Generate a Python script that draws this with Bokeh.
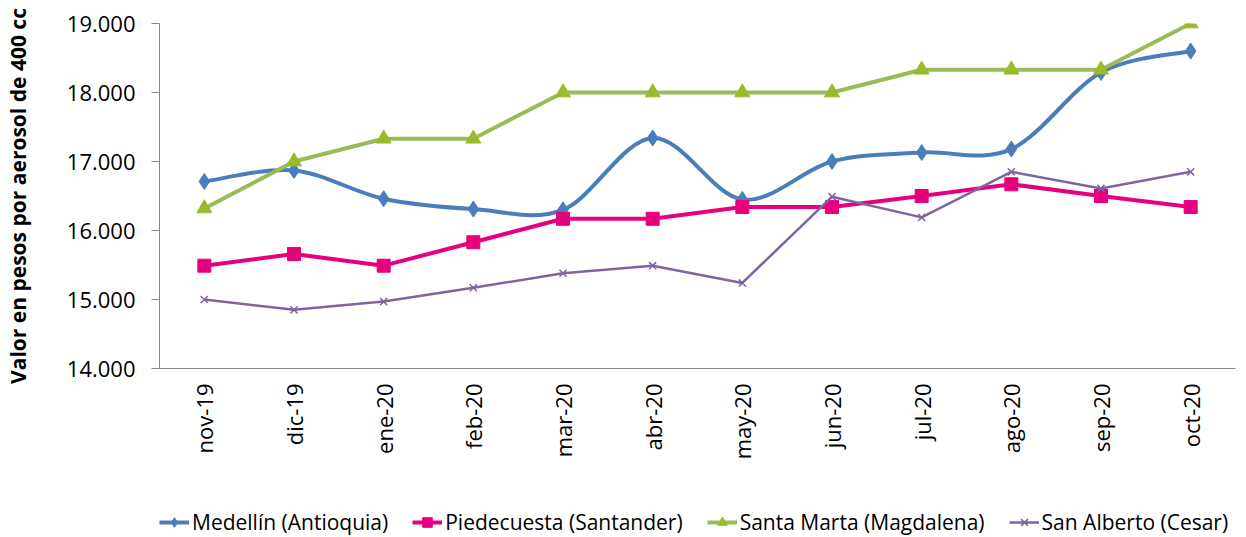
from bokeh.plotting import figure
from bokeh.models import Range1d, FixedTicker, Legend, LegendItem
from bokeh.layouts import column
from bokeh.embed import file_html
from bokeh.resources import INLINE
from math import pi

months = ["nov-19", "dic-19", "ene-20", "feb-20", "mar-20", "abr-20",
          "may-20", "jun-20", "jul-20", "ago-20", "sep-20", "oct-20"]
medellin = [16710, 16870, 16460, 16310, 16300, 17340, 16450, 17000, 17130, 17180, 18290, 18600]
piedecuesta = [15490, 15660, 15490, 15830, 16170, 16170, 16340, 16340, 16500, 16670, 16500, 16340]
santa_marta = [16320, 17000, 17330, 17330, 18000, 18000, 18000, 18000, 18330, 18330, 18330, 19000]
san_alberto = [15000, 14850, 14970, 15170, 15380, 15490, 15240, 16490, 16190, 16850, 16610, 16850]
y_ticks = [14000, 15000, 16000, 17000, 18000, 19000]
y_tick_labels = ["14.000", "15.000", "16.000", "17.000", "18.000", "19.000"]
series_names = ["Medellín (Antioquia)", "Piedecuesta (Santander)",
                "Santa Marta (Magdalena)", "San Alberto (Cesar)"]

FONT = "Open Sans"
BLUE = "#4A7EBB"
MAGENTA = "#E6007E"
GREEN = "#9BBB59"
GREEN_MK = "#99BB2A"
PURPLE = "#8064A2"
AXIS = "#868686"

x = [i + 0.5 for i in range(len(months))]

p = figure(width=1246, height=500, output_backend="svg", toolbar_location=None,
           x_range=Range1d(0, len(months)), y_range=Range1d(14000, 19000),
           min_border_left=156, min_border_right=11, min_border_top=23,
           min_border_bottom=132)
p.outline_line_color = None
p.grid.visible = False
p.background_fill_color = "white"
p.border_fill_color = "white"

# y axis
p.yaxis.ticker = FixedTicker(ticks=y_ticks)
p.yaxis.major_label_overrides = {t: l for t, l in zip(y_ticks, y_tick_labels)}
p.yaxis.minor_tick_line_color = None
p.yaxis.major_tick_in = 0
p.yaxis.major_tick_out = 8
p.yaxis.major_tick_line_color = AXIS
p.yaxis.axis_line_color = AXIS
p.yaxis.major_label_text_font = FONT
p.yaxis.major_label_text_font_size = "22px"
p.yaxis.major_label_text_color = "#000000"
p.yaxis.major_label_standoff = 16
p.yaxis.axis_label = "Valor en pesos por aerosol de 400 cc"
p.yaxis.axis_label_text_font = FONT
p.yaxis.axis_label_text_font_style = "bold"
p.yaxis.axis_label_text_font_size = "21px"
p.yaxis.axis_label_text_color = "#000000"
p.yaxis.axis_label_standoff = 32

# x axis
p.xaxis.ticker = FixedTicker(ticks=x)
p.xaxis.major_label_overrides = {xi: m for xi, m in zip(x, months)}
p.xaxis.minor_tick_line_color = None
p.xaxis.major_tick_line_color = None
p.xaxis.major_tick_in = 0
p.xaxis.major_tick_out = 0
p.xaxis.axis_line_color = AXIS
p.xaxis.major_label_orientation = pi / 2
p.xaxis.major_label_text_font = FONT
p.xaxis.major_label_text_font_size = "22px"
p.xaxis.major_label_text_color = "#000000"
p.xaxis.major_label_standoff = 15

# Medellín: smoothed curve (Bezier segments built from the data points)
n = len(medellin)
bx0, by0, bx1, by1, cx0, cy0, cx1, cy1 = [], [], [], [], [], [], [], []
for i in range(n - 1):
    xa, ya = (x[i - 1], medellin[i - 1]) if i > 0 else (x[i], medellin[i])
    xd, yd = (x[i + 2], medellin[i + 2]) if i + 2 < n else (x[i + 1], medellin[i + 1])
    bx0.append(x[i]); by0.append(medellin[i])
    bx1.append(x[i + 1]); by1.append(medellin[i + 1])
    cx0.append(x[i] + (x[i + 1] - xa) / 6.0)
    cy0.append(medellin[i] + (medellin[i + 1] - ya) / 6.0)
    cx1.append(x[i + 1] - (xd - x[i]) / 6.0)
    cy1.append(medellin[i + 1] - (yd - medellin[i]) / 6.0)
p.bezier(x0=bx0, y0=by0, x1=bx1, y1=by1, cx0=cx0, cy0=cy0, cx1=cx1, cy1=cy1,
         line_color=BLUE, line_width=4)
p.scatter(x, medellin, marker="diamond", size=16, fill_color=BLUE, line_color=BLUE)
p.line(x, piedecuesta, line_color=MAGENTA, line_width=4)
p.scatter(x, piedecuesta, marker="square", size=13, fill_color=MAGENTA, line_color=MAGENTA)
p.line(x, santa_marta, line_color=GREEN, line_width=4)
p.scatter(x, santa_marta, marker="triangle", size=15, fill_color=GREEN_MK, line_color=GREEN_MK)
p.line(x, san_alberto, line_color=PURPLE, line_width=2.5)
p.scatter(x, san_alberto, marker="x", size=10, line_color=PURPLE, line_width=1.5)

# Legend strip (separate figure below the chart, same styles as the series)
lg = figure(width=1246, height=37, output_backend="svg", toolbar_location=None,
            x_range=Range1d(0, 1), y_range=Range1d(0, 1),
            min_border=0, min_border_left=0, min_border_right=0,
            min_border_top=0, min_border_bottom=0)
lg.axis.visible = False
lg.grid.visible = False
lg.outline_line_color = None
lg.background_fill_color = "white"
lg.border_fill_color = "white"
far = [-10.0]
styles = [
    (BLUE, 4, "diamond", 12, BLUE),
    (MAGENTA, 4, "square", 11, MAGENTA),
    (GREEN, 4, "triangle", 12, GREEN_MK),
    (PURPLE, 2.5, "x", 9, PURPLE),
]
items = []
for name, (lc, lw, mk, ms, mc) in zip(series_names, styles):
    rl = lg.line(far, far, line_color=lc, line_width=lw)
    rs = lg.scatter(far, far, marker=mk, size=ms, fill_color=mc, line_color=mc,
                    line_width=1.5 if mk == "x" else 1)
    items.append(LegendItem(label=name, renderers=[rl, rs]))

legend = Legend(items=items, orientation="horizontal", location=(0, 1))
legend.padding = 0
legend.margin = 0
legend.spacing = 24
legend.glyph_width = 30
legend.glyph_height = 24
legend.label_height = 24
legend.label_standoff = 3
legend.label_text_font = FONT
legend.label_text_font_size = "21px"
legend.label_text_color = "#000000"
legend.border_line_color = None
legend.background_fill_alpha = 0
lg.add_layout(legend, "center")

layout = column(p, lg, spacing=0)
open("out.html", "w").write(file_html(layout, INLINE))
